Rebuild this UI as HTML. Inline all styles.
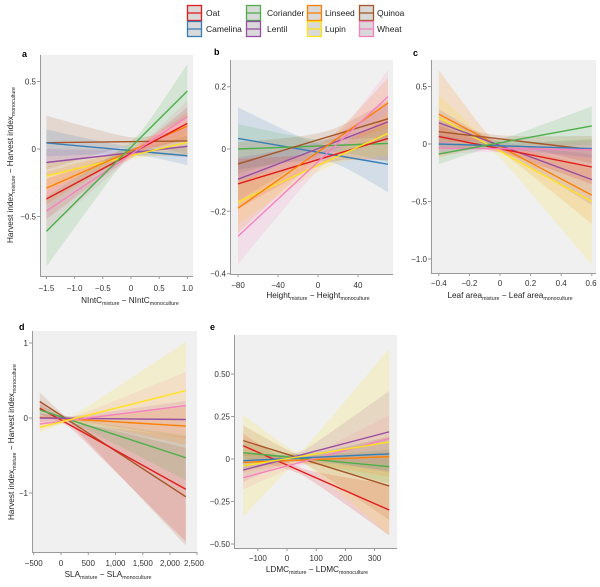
<!DOCTYPE html>
<html><head><meta charset="utf-8"><style>
html,body{margin:0;padding:0;background:#fff;}
svg{display:block;font-family:"Liberation Sans",Arial,sans-serif;}
.tk{font-size:8px;fill:#333;}
.lb{font-size:8.2px;fill:#222;}
.lt{font-size:8.5px;fill:#222;}
.pl{font-size:9px;font-weight:bold;fill:#000;}
</style></head><body>
<svg id="s" width="600" height="587" viewBox="0 0 600 587" xmlns="http://www.w3.org/2000/svg">
<rect width="600" height="587" fill="#fff"/>
<!-- legend -->
<g stroke-width="1.3">
<rect x="187.5" y="5.5" width="14" height="15" fill="#d9d9d9" stroke="#e41a1c"/><line x1="188" y1="13" x2="201" y2="13" stroke="#e41a1c"/>
<rect x="187.5" y="21.5" width="14" height="15" fill="#d9d9d9" stroke="#377eb8"/><line x1="188" y1="29" x2="201" y2="29" stroke="#377eb8"/>
<rect x="246.5" y="5.5" width="14" height="15" fill="#d9d9d9" stroke="#4daf4a"/><line x1="247" y1="13" x2="260" y2="13" stroke="#4daf4a"/>
<rect x="246.5" y="21.5" width="14" height="15" fill="#d9d9d9" stroke="#984ea3"/><line x1="247" y1="29" x2="260" y2="29" stroke="#984ea3"/>
<rect x="307.5" y="5.5" width="14" height="15" fill="#d9d9d9" stroke="#ff7f00"/><line x1="308" y1="13" x2="321" y2="13" stroke="#ff7f00"/>
<rect x="307.5" y="21.5" width="14" height="15" fill="#d9d9d9" stroke="#ffe31a"/><line x1="308" y1="29" x2="321" y2="29" stroke="#ffe31a"/>
<rect x="359.5" y="5.5" width="14" height="15" fill="#d9d9d9" stroke="#a65628"/><line x1="360" y1="13" x2="373" y2="13" stroke="#a65628"/>
<rect x="359.5" y="21.5" width="14" height="15" fill="#d9d9d9" stroke="#f781bf"/><line x1="360" y1="29" x2="373" y2="29" stroke="#f781bf"/>
</g>
<text class="lt" x="206" y="16">Oat</text>
<text class="lt" x="206" y="32">Camelina</text>
<text class="lt" x="267" y="16">Coriander</text>
<text class="lt" x="267" y="32">Lentil</text>
<text class="lt" x="325" y="16">Linseed</text>
<text class="lt" x="325" y="32">Lupin</text>
<text class="lt" x="377" y="16">Quinoa</text>
<text class="lt" x="377" y="32">Wheat</text>

<!-- panel backgrounds -->
<rect x="40" y="55" width="153" height="221" fill="#f0f0f0"/>
<rect x="230" y="60" width="163" height="214" fill="#f0f0f0"/>
<rect x="431" y="60" width="165" height="213" fill="#f0f0f0"/>
<rect x="32" y="331" width="165" height="221" fill="#f0f0f0"/>
<rect x="234" y="335" width="163" height="213" fill="#f0f0f0"/>

<g id="pa"></g><g id="pb"></g><g id="pc"></g><g id="pd"></g><g id="pe"></g>

<!-- axes -->
<g stroke="#9a9a9a" stroke-width="1" fill="none">
<path d="M40.5 55V276.5H193"/>
<path d="M230.5 60V274.5H393"/>
<path d="M431.5 60V273.5H596"/>
<path d="M32.5 331V552.5H197"/>
<path d="M234.5 335V548.5H397"/>
<path d="M46.4 276v3M74.6 276v3M102.8 276v3M131 276v3M159.2 276v3M187.4 276v3M40 81.5h-3M40 149h-3M40 216.5h-3"/>
<path d="M238 274v3M278 274v3M318 274v3M358 274v3M230 86.7h-3M230 149h-3M230 211.3h-3M230 273.6h-3"/>
<path d="M438.8 273v3M469.4 273v3M500 273v3M530.6 273v3M561.2 273v3M591.8 273v3M431 86.5h-3M431 144h-3M431 201.5h-3M431 259h-3"/>
<path d="M33.7 552v3M61 552v3M88.3 552v3M115.5 552v3M142.8 552v3M170 552v3M197 552v3M32 343h-3M32 418h-3M32 493h-3"/>
<path d="M257.8 548v3M287 548v3M316.2 548v3M345.4 548v3M374.6 548v3M234 374h-3M234 416.5h-3M234 459h-3M234 501.5h-3M234 544h-3"/>
</g>

<g class="tk" text-anchor="middle">
<text x="46.4" y="291">−1.5</text><text x="74.6" y="291">−1.0</text><text x="102.8" y="291">−0.5</text><text x="131" y="291">0</text><text x="159.2" y="291">0.5</text><text x="187.4" y="291">1.0</text>
<text x="238" y="288">−80</text><text x="278" y="288">−40</text><text x="318" y="288">0</text><text x="358" y="288">40</text>
<text x="438.8" y="286">−0.4</text><text x="469.4" y="286">−0.2</text><text x="500" y="286">0</text><text x="530.6" y="286">0.2</text><text x="561.2" y="286">0.4</text><text x="591" y="286">0.6</text>
<text x="33.7" y="566">−500</text><text x="61" y="566">0</text><text x="88.3" y="566">500</text><text x="115.5" y="566">1,000</text><text x="142.8" y="566">1,500</text><text x="170" y="566">2,000</text><text x="194" y="566">2,500</text>
<text x="257.8" y="561">−100</text><text x="287" y="561">0</text><text x="316.2" y="561">100</text><text x="345.4" y="561">200</text><text x="374.6" y="561">300</text>
</g>
<g class="tk" text-anchor="end">
<text x="36" y="84.5">0.5</text><text x="36" y="152">0</text><text x="36" y="219.5">−0.5</text>
<text x="226" y="89.7">0.2</text><text x="226" y="152">0</text><text x="226" y="214.3">−0.2</text><text x="226" y="276.6">−0.4</text>
<text x="427" y="89.5">0.5</text><text x="427" y="147">0</text><text x="427" y="204.5">−0.5</text><text x="427" y="262">−1.0</text>
<text x="28" y="346">1</text><text x="28" y="421">0</text><text x="28" y="496">−1</text>
<text x="230" y="377">0.50</text><text x="230" y="419.5">0.25</text><text x="230" y="462">0</text><text x="230" y="504.5">−0.25</text><text x="230" y="547">−0.50</text>
</g>

<g class="lb" text-anchor="middle">
<text x="130" y="303">NIntC<tspan font-size="5.3" dy="2">mixture</tspan><tspan dy="-2"> − NIntC</tspan><tspan font-size="5.3" dy="2">monoculture</tspan></text>
<text x="318" y="298">Height<tspan font-size="5.3" dy="2">mixture</tspan><tspan dy="-2"> − Height</tspan><tspan font-size="5.3" dy="2">monoculture</tspan></text>
<text x="510" y="298">Leaf area<tspan font-size="5.3" dy="2">mixture</tspan><tspan dy="-2"> − Leaf area</tspan><tspan font-size="5.3" dy="2">monoculture</tspan></text>
<text x="108" y="577">SLA<tspan font-size="5.3" dy="2">mixture</tspan><tspan dy="-2"> − SLA</tspan><tspan font-size="5.3" dy="2">monoculture</tspan></text>
<text x="317" y="572">LDMC<tspan font-size="5.3" dy="2">mixture</tspan><tspan dy="-2"> − LDMC</tspan><tspan font-size="5.3" dy="2">monoculture</tspan></text>
<text transform="translate(13,165) rotate(-90)">Harvest index<tspan font-size="5.3" dy="2">mixture</tspan><tspan dy="-2"> − Harvest index</tspan><tspan font-size="5.3" dy="2">monoculture</tspan></text>
<text transform="translate(14,442) rotate(-90)">Harvest index<tspan font-size="5.3" dy="2">mixture</tspan><tspan dy="-2"> − Harvest index</tspan><tspan font-size="5.3" dy="2">monoculture</tspan></text>
</g>

<text class="pl" x="22" y="57">a</text>
<text class="pl" x="214" y="55">b</text>
<text class="pl" x="413" y="56">c</text>
<text class="pl" x="19" y="330">d</text>
<text class="pl" x="210" y="330">e</text>
</svg>
<script>
(function(){
var C={Oat:'#e41a1c',Camelina:'#377eb8',Coriander:'#4daf4a',Lentil:'#984ea3',Linseed:'#ff7f00',Lupin:'#ffe31a',Quinoa:'#a65628',Wheat:'#f781bf'};
var P=[
{id:'pa',X:function(x){return 131+56.4*x},Y:function(y){return 149-135*y},xl:-1.5,xr:1.0,xc:0.1,s:[
['Quinoa',0.047,0.06,0.2,0.03,0.1],['Camelina',0.045,-0.05,0.1,0.03,0.07],['Lentil',-0.10,0.02,0.1,0.03,0.08],
['Lupin',-0.20,0.05,0.1,0.03,0.1],['Linseed',-0.29,0.17,0.12,0.03,0.1],['Oat',-0.37,0.19,0.15,0.03,0.12],
['Wheat',-0.46,0.24,0.15,0.03,0.12],['Coriander',-0.61,0.43,0.26,0.04,0.2]]},
{id:'pb',X:function(x){return 318+x},Y:function(y){return 149-311.5*y},xl:-80,xr:70,xc:10,s:[
['Camelina',0.034,-0.049,0.1,0.025,0.09],['Coriander',0.0,0.018,0.08,0.02,0.06],['Quinoa',-0.048,0.097,0.07,0.02,0.06],
['Lentil',-0.097,0.087,0.07,0.02,0.06],['Oat',-0.112,0.034,0.08,0.02,0.07],['Lupin',-0.17,0.05,0.07,0.02,0.07],
['Linseed',-0.19,0.148,0.08,0.02,0.08],['Wheat',-0.28,0.168,0.09,0.025,0.085]]},
{id:'pc',X:function(x){return 500+153*x},Y:function(y){return 144-115*y},xl:-0.4,xr:0.6,xc:-0.05,s:[
['Linseed',0.26,-0.445,0.38,0.04,0.25],['Lupin',0.23,-0.5,0.2,0.04,0.55],['Lentil',0.185,-0.31,0.12,0.03,0.22],
['Quinoa',0.107,-0.05,0.1,0.03,0.12],['Oat',0.065,-0.2,0.1,0.03,0.15],['Camelina',0.0,-0.04,0.08,0.03,0.08],
['Wheat',-0.035,-0.05,0.06,0.03,0.08],['Coriander',-0.087,0.157,0.09,0.03,0.17]]},
{id:'pd',X:function(x){return 61+0.0545*x},Y:function(y){return 418-75*y},xl:-390,xr:2290,xc:110,s:[
['Quinoa',0.22,-1.05,0.12,0.03,0.65],['Oat',0.13,-0.95,0.08,0.03,0.7],['Coriander',0.107,-0.53,0.07,0.03,0.3],
['Linseed',0.01,-0.107,0.06,0.03,0.25],['Lentil',0.0,-0.02,0.06,0.03,0.25],['Wheat',-0.08,0.165,0.07,0.03,0.45],
['Lupin',-0.124,0.365,0.07,0.03,0.65]]},
{id:'pe',X:function(x){return 287+0.292*x},Y:function(y){return 459-170*y},xl:-150,xr:350,xc:40,s:[
['Quinoa',0.108,-0.159,0.09,0.02,0.2],['Oat',0.078,-0.30,0.07,0.02,0.15],['Coriander',0.037,-0.045,0.06,0.02,0.1],
['Linseed',-0.02,0.014,0.06,0.02,0.12],['Lentil',-0.065,0.16,0.07,0.02,0.24],['Wheat',-0.11,0.12,0.07,0.02,0.14],
['Camelina',-0.01,0.03,0.05,0.02,0.1],['Lupin',-0.04,0.1,0.3,0.03,0.55]]}
];
var NS='http://www.w3.org/2000/svg';
P.forEach(function(p){
  var g=document.getElementById(p.id),lines=[];
  p.s.forEach(function(s){
    var col=C[s[0]],yl=s[1],yr=s[2],hl=s[3],hc=s[4],hr=s[5];
    function ly(x){return yl+(yr-yl)*(x-p.xl)/(p.xr-p.xl);}
    function hw(x){
      if(x<p.xc){var t=(x-p.xc)/(p.xl-p.xc);return Math.sqrt(hc*hc+(hl*hl-hc*hc)*t*t);}
      var u=(x-p.xc)/(p.xr-p.xc);return Math.sqrt(hc*hc+(hr*hr-hc*hc)*u*u);
    }
    var N=60,up=[],lo=[];
    for(var i=0;i<=N;i++){
      var x=p.xl+(p.xr-p.xl)*i/N,y=ly(x),h=hw(x);
      up.push(p.X(x).toFixed(2)+','+p.Y(y+h).toFixed(2));
      lo.push(p.X(x).toFixed(2)+','+p.Y(y-h).toFixed(2));
    }
    lo.reverse();
    var path=document.createElementNS(NS,'path');
    path.setAttribute('d','M'+up.join('L')+'L'+lo.join('L')+'Z');
    path.setAttribute('fill',col);
    path.setAttribute('fill-opacity','0.16');
    g.appendChild(path);
    var ln=document.createElementNS(NS,'line');
    ln.setAttribute('x1',p.X(p.xl));ln.setAttribute('y1',p.Y(yl));
    ln.setAttribute('x2',p.X(p.xr));ln.setAttribute('y2',p.Y(yr));
    ln.setAttribute('stroke',col);ln.setAttribute('stroke-width','1.4');
    lines.push(ln);
  });
  lines.forEach(function(l){g.appendChild(l);});
});
})();
</script>
</body></html>
